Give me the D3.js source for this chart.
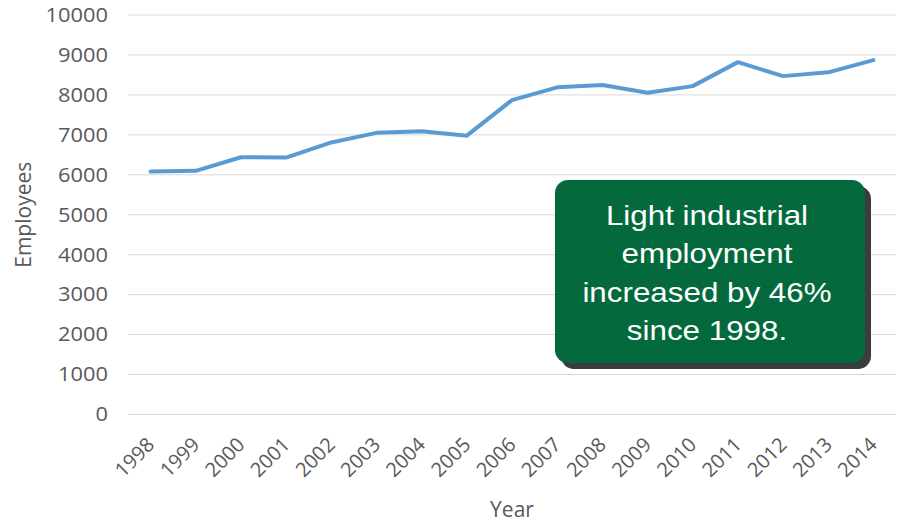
<!DOCTYPE html>
<html>
<head>
<meta charset="utf-8">
<script src="https://cdn.jsdelivr.net/npm/d3@7"></script>
<style>
  html, body { margin: 0; padding: 0; background: #ffffff; }
  svg { display: block; }
</style>
</head>
<body>
<svg id="chart" width="899" height="523"></svg>
<script>
// Light industrial employment by year
const years = ["1998","1999","2000","2001","2002","2003","2004","2005","2006",
               "2007","2008","2009","2010","2011","2012","2013","2014"];
const employees = [6080, 6100, 6440, 6430, 6810, 7050, 7090, 6980, 7870,
                   8190, 8250, 8055, 8220, 8820, 8470, 8565, 8870];
const yTicks = [0, 1000, 2000, 3000, 4000, 5000, 6000, 7000, 8000, 9000, 10000];
const noteLines = ["Light industrial", "employment", "increased by 46%", "since 1998."];

const svg = d3.select("#chart");
const plot = { left: 128, right: 896, top: 15, bottom: 414.5 };
const labelColor = "#595959";
const stretch = 1.12;

const x = d3.scaleBand().domain(years).range([plot.left, plot.right]).padding(0);
const y = d3.scaleLinear().domain([0, 10000]).range([plot.bottom, plot.top]);
const cx = d => x(d) + x.bandwidth() / 2;

// horizontal gridlines
svg.append("g")
  .selectAll("line")
  .data(yTicks)
  .join("line")
  .attr("x1", plot.left).attr("x2", plot.right)
  .attr("y1", d => y(d)).attr("y2", d => y(d))
  .attr("stroke", "#d9d9d9").attr("stroke-width", 1);

// y tick labels
svg.append("g")
  .selectAll("text")
  .data(yTicks)
  .join("text")
  .attr("transform", d => `translate(108,${y(d)}) scale(${stretch},1)`)
  .attr("dy", "0.35em")
  .attr("text-anchor", "end")
  .attr("font-family", "'Open Sans', sans-serif")
  .attr("font-size", 19.5)
  .attr("fill", labelColor)
  .text(d => d);

// x tick labels, rotated
svg.append("g")
  .selectAll("text")
  .data(years)
  .join("text")
  .attr("transform", d => `translate(${cx(d) + 5},446) rotate(-45)`)
  .attr("text-anchor", "end")
  .attr("font-family", "'Open Sans', sans-serif")
  .attr("font-size", 20)
  .attr("fill", labelColor)
  .text(d => d);

// axis titles
svg.append("text")
  .attr("transform", `translate(${(plot.left + plot.right) / 2},517)`)
  .attr("text-anchor", "middle")
  .attr("font-family", "'Open Sans', sans-serif")
  .attr("font-size", 21)
  .attr("fill", labelColor)
  .text("Year");

svg.append("text")
  .attr("transform", `translate(31,${(plot.top + plot.bottom) / 2}) rotate(-90)`)
  .attr("text-anchor", "middle")
  .attr("font-family", "'Open Sans', sans-serif")
  .attr("font-size", 21)
  .attr("fill", labelColor)
  .text("Employees");

// data line
const line = d3.line()
  .x((d, i) => cx(years[i]))
  .y(d => y(d));

svg.append("path")
  .datum(employees)
  .attr("d", line)
  .attr("fill", "none")
  .attr("stroke", "#5b9bd5")
  .attr("stroke-width", 4)
  .attr("stroke-linejoin", "round")
  .attr("stroke-linecap", "round");

// callout box
const box = { x: 555, y: 180, w: 310, h: 183, r: 13 };
svg.append("rect")
  .attr("x", box.x + 6).attr("y", box.y + 6)
  .attr("width", box.w).attr("height", box.h)
  .attr("rx", box.r)
  .attr("fill", "#3c3c3c");
svg.append("rect")
  .attr("x", box.x).attr("y", box.y)
  .attr("width", box.w).attr("height", box.h)
  .attr("rx", box.r)
  .attr("fill", "#046a3e");

svg.append("g")
  .selectAll("text")
  .data(noteLines)
  .join("text")
  .attr("transform", (d, i) => `translate(${box.x + box.w / 2 - 3},${225 + i * 38.3}) scale(${stretch},1)`)
  .attr("text-anchor", "middle")
  .attr("font-family", "'Liberation Sans', Arial, sans-serif")
  .attr("font-size", 28)
  .attr("fill", "#ffffff")
  .text(d => d);
</script>
</body>
</html>
